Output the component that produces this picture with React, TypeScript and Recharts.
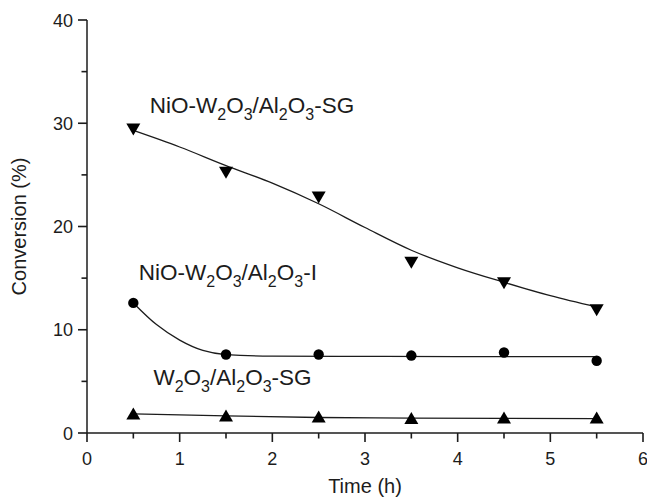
import React from "react";
import {
  ComposedChart,
  Line,
  Scatter,
  XAxis,
  YAxis,
  ReferenceDot
} from "recharts";

const INK = "#1c1c1c";
const FONT = "'Liberation Sans', Arial, sans-serif";

// measured points (h, %)
const timeH = [0.5, 1.5, 2.5, 3.5, 4.5, 5.5];
const sgConv = [29.4, 25.2, 22.8, 16.5, 14.5, 11.9];
const impConv = [12.6, 7.6, 7.6, 7.5, 7.8, 7.0];
const w2o3Conv = [1.9, 1.7, 1.6, 1.45, 1.5, 1.5];

// fitted curves as drawn in the figure
const sgFitTime = [0.5, 1, 1.5, 2, 2.5, 3, 3.5, 4, 4.5, 5, 5.5];
const sgFit = [29.3, 27.7, 25.9, 24.2, 22.2, 19.9, 17.7, 16.0, 14.6, 13.3, 12.2];
const impFitTime = [0.5, 0.75, 1, 1.25, 1.5, 2, 3, 4, 5, 5.5];
const impFit = [12.6, 10.5, 9.0, 8.0, 7.6, 7.45, 7.42, 7.4, 7.4, 7.4];
const w2o3FitTime = [0.5, 1.5, 2.5, 3.5, 4.5, 5.5];
const w2o3Fit = [1.85, 1.65, 1.5, 1.45, 1.42, 1.4];

const xTicks = [0, 0.5, 1, 1.5, 2, 2.5, 3, 3.5, 4, 4.5, 5, 5.5, 6];
const yTicks = [0, 5, 10, 15, 20, 25, 30, 35, 40];

const toPts = (xs: number[], ys: number[]) => xs.map((x, i) => ({ x, y: ys[i] }));

const sgPoints = toPts(timeH, sgConv);
const impPoints = toPts(timeH, impConv);
const w2o3Points = toPts(timeH, w2o3Conv);
const sgLine = toPts(sgFitTime, sgFit);
const impLine = toPts(impFitTime, impFit);
const w2o3Line = toPts(w2o3FitTime, w2o3Fit);

type Part = { t: string; sub?: boolean };
const sgLabel: Part[] = [
  { t: "NiO-W" }, { t: "2", sub: true }, { t: "O" }, { t: "3", sub: true },
  { t: "/Al" }, { t: "2", sub: true }, { t: "O" }, { t: "3", sub: true }, { t: "-SG" }
];
const impLabel: Part[] = [
  { t: "NiO-W" }, { t: "2", sub: true }, { t: "O" }, { t: "3", sub: true },
  { t: "/Al" }, { t: "2", sub: true }, { t: "O" }, { t: "3", sub: true }, { t: "-I" }
];
const w2o3Label: Part[] = [
  { t: "W" }, { t: "2", sub: true }, { t: "O" }, { t: "3", sub: true },
  { t: "/Al" }, { t: "2", sub: true }, { t: "O" }, { t: "3", sub: true }, { t: "-SG" }
];

const labelShape = (parts: Part[]) => (props: any) => {
  const { cx, cy } = props;
  let shifted = false;
  return (
    <text x={cx} y={cy} textAnchor="middle" fill={INK} fontFamily={FONT} fontSize={22.5}>
      {parts.map((p, i) => {
        let dy = 0;
        if (p.sub && !shifted) { dy = 7; shifted = true; }
        else if (!p.sub && shifted) { dy = -7; shifted = false; }
        return (
          <tspan key={i} dy={dy} fontSize={p.sub ? 16 : 22.5}>{p.t}</tspan>
        );
      })}
    </text>
  );
};

const DownTriangle = (props: any) => {
  const { cx, cy } = props;
  return <path d={`M${cx - 7},${cy - 6} L${cx + 7},${cy - 6} L${cx},${cy + 6} Z`} fill="#000" />;
};
const UpTriangle = (props: any) => {
  const { cx, cy } = props;
  return <path d={`M${cx - 7},${cy + 6} L${cx + 7},${cy + 6} L${cx},${cy - 6} Z`} fill="#000" />;
};
const CircleDot = (props: any) => {
  const { cx, cy } = props;
  return <circle cx={cx} cy={cy} r={5.2} fill="#000" />;
};

// outward ticks, long on whole numbers, short on halves
const XTick = (props: any) => {
  const { x, y, payload } = props;
  const major = Number.isInteger(payload.value);
  const len = major ? 9 : 5.5;
  return (
    <g>
      <rect x={x - 0.8} y={y} width={1.6} height={len} fill={INK} />
      {major && (
        <text x={x} y={y + 32} textAnchor="middle" fill={INK} fontFamily={FONT} fontSize={18}>
          {payload.value}
        </text>
      )}
    </g>
  );
};

const YTick = (props: any) => {
  const { x, y, payload } = props;
  const major = payload.value % 10 === 0;
  const len = major ? 9 : 5.5;
  return (
    <g>
      <rect x={x - len} y={y - 0.8} width={len} height={1.6} fill={INK} />
      {major && (
        <text x={x - 14} y={y + 6.5} textAnchor="end" fill={INK} fontFamily={FONT} fontSize={18}>
          {payload.value}
        </text>
      )}
    </g>
  );
};

export default function App() {
  return (
    <div style={{ position: "absolute", left: 0, top: 0, background: "#fff" }}>
      <ComposedChart width={647} height={497} margin={{ top: 20, right: 4, bottom: 0, left: 0 }}>
        <XAxis
          type="number"
          dataKey="x"
          domain={[0, 6]}
          ticks={xTicks}
          interval={0}
          tickSize={0}
          tickMargin={0}
          tickLine={false}
          tick={<XTick />}
          height={64}
          stroke={INK}
          strokeWidth={1.5}
          label={{
            content: (p: any) => (
              <text x={p.viewBox.x + p.viewBox.width / 2} y={p.viewBox.y + 60} textAnchor="middle"
                fill={INK} fontFamily={FONT} fontSize={20}>Time (h)</text>
            )
          }}
        />
        <YAxis
          type="number"
          dataKey="y"
          domain={[0, 40]}
          ticks={yTicks}
          interval={0}
          tickSize={0}
          tickMargin={0}
          tickLine={false}
          tick={<YTick />}
          width={87}
          stroke={INK}
          strokeWidth={1.5}
          label={{
            content: (p: any) => {
              const cx = p.viewBox.x + 26;
              const cy = p.viewBox.y + p.viewBox.height / 2;
              return (
                <text x={cx} y={cy} transform={`rotate(-90 ${cx} ${cy})`} textAnchor="middle"
                  fill={INK} fontFamily={FONT} fontSize={20}>Conversion (%)</text>
              );
            }
          }}
        />
        <Line data={sgLine} dataKey="y" type="monotone" stroke={INK} strokeWidth={1.3} dot={false} isAnimationActive={false} />
        <Line data={impLine} dataKey="y" type="monotone" stroke={INK} strokeWidth={1.3} dot={false} isAnimationActive={false} />
        <Line data={w2o3Line} dataKey="y" type="monotone" stroke={INK} strokeWidth={1.3} dot={false} isAnimationActive={false} />
        <Scatter data={sgPoints} dataKey="y" shape={DownTriangle} isAnimationActive={false} />
        <Scatter data={impPoints} dataKey="y" shape={CircleDot} isAnimationActive={false} />
        <Scatter data={w2o3Points} dataKey="y" shape={UpTriangle} isAnimationActive={false} />
        <ReferenceDot x={1.78} y={31.0} r={0} ifOverflow="visible" shape={labelShape(sgLabel)} />
        <ReferenceDot x={1.52} y={14.8} r={0} ifOverflow="visible" shape={labelShape(impLabel)} />
        <ReferenceDot x={1.57} y={4.65} r={0} ifOverflow="visible" shape={labelShape(w2o3Label)} />
      </ComposedChart>
    </div>
  );
}
